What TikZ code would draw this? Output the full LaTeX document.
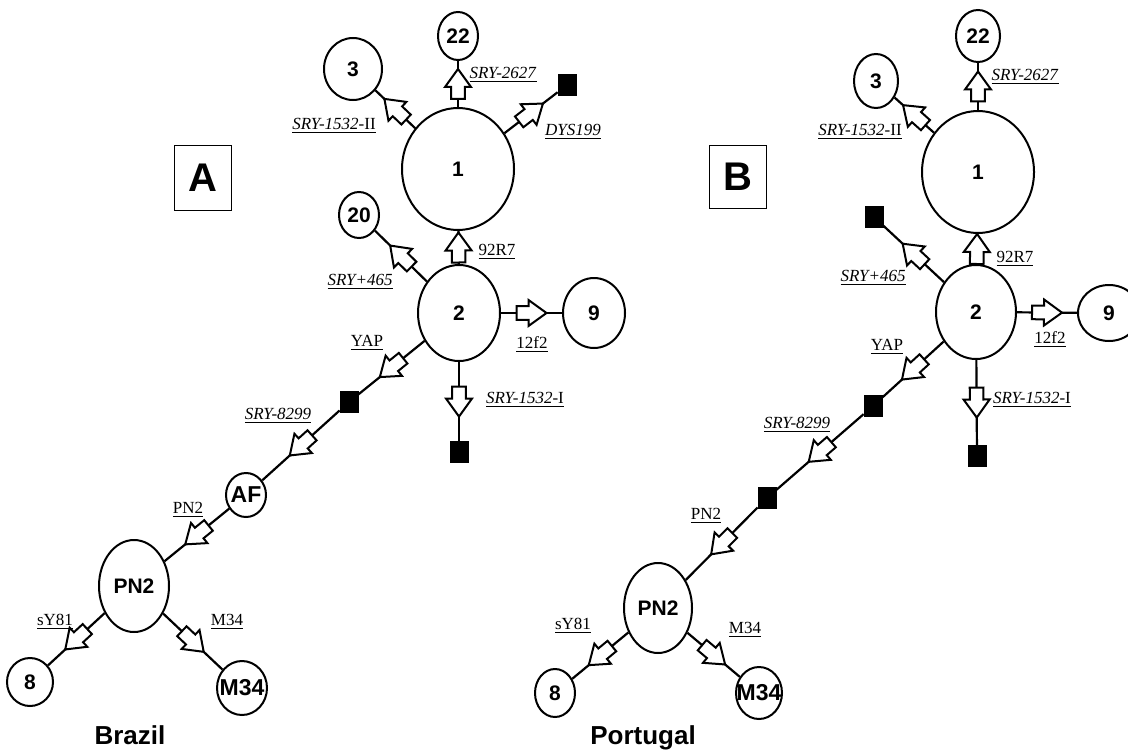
\documentclass[tikz,border=0pt]{standalone}
\usepackage{fontspec}
\setmainfont{Liberation Serif}
\setsansfont{Liberation Sans}
\usepackage{tikz}
\usetikzlibrary{shapes.geometric,decorations.markings}

\begin{document}
\begin{tikzpicture}[x=0.5pt,y=-0.5pt]
  \tikzset{hapnode/.style={ellipse,draw=black,line width=1pt,fill=white,inner sep=0pt,font=\sffamily\bfseries\fontsize{10.5}{12}\selectfont}}
  \tikzset{hapsize/.style 2 args={minimum width=#1pt,minimum height=#2pt}}
  \tikzset{blacksq/.style={rectangle,fill=black,draw=black,inner sep=0pt,minimum width=9pt,minimum height=10.5pt}}
  \tikzset{panelbox/.style={rectangle,draw=black,line width=0.6pt,minimum width=28.5pt,minimum height=32.5pt,font=\sffamily\bfseries\fontsize{20}{24}\selectfont}}
  \tikzset{mutedge/.style={draw=black,line width=1.1pt,postaction={decorate},
    decoration={markings,mark=at position 0.5 with {
      \draw[fill=white,line width=1pt,line join=miter]
        (-7.5pt,-3.4pt) -- (-1.5pt,-3.4pt) -- (-1.5pt,-6.5pt) -- (7.5pt,0pt) --
        (-1.5pt,6.5pt) -- (-1.5pt,3.4pt) -- (-7.5pt,3.4pt) -- cycle;}}}}
  \tikzset{mutlabel/.style={font=\fontsize{8.5}{10}\selectfont,inner sep=0pt}}
  \tikzset{country/.style={font=\sffamily\bfseries\fontsize{13}{15}\selectfont,anchor=base,inner sep=0pt}}
  \useasboundingbox (0,0) rectangle (1128,749);
  % panel A
  \node[hapnode,hapsize={56}{61}] (a1) at (458,169) {1};
  \node[hapnode,hapsize={20}{24}] (a22) at (458,36) {22};
  \node[hapnode,hapsize={29}{31}] (a3) at (353,69) {3};
  \node[blacksq] (asq1) at (567,85) {};
  \node[hapnode,hapsize={20}{23}] (a20) at (359,215) {20};
  \node[hapnode,hapsize={41}{48}] (a2) at (459,313) {2};
  \node[hapnode,hapsize={31}{35}] (a9) at (594,313) {9};
  \node[blacksq] (asq2) at (459,452) {};
  \node[blacksq] (asq3) at (349,402) {};
  \node[hapnode,hapsize={20}{22},font=\sffamily\bfseries\fontsize{11.5}{13}\selectfont] (aAF) at (246,495) {\makebox[0pt]{AF}};
  \node[hapnode,hapsize={35}{46}] (aPN2) at (134,586) {PN2};
  \node[hapnode,hapsize={23}{24}] (a8) at (30,682) {8};
  \node[hapnode,hapsize={25}{27},font=\sffamily\bfseries\fontsize{11.5}{13}\selectfont] (aM34) at (242,688) {\makebox[0pt]{M34}};
  \node[panelbox] (boxA) at (203,178) {A};
  \draw[mutedge] (a1) -- (a22);
  \node[mutlabel] at (503,75) {\underline{\textit{SRY-2627}}};
  \draw[mutedge] (a1) -- (a3);
  \node[mutlabel] at (334,126) {\underline{\textit{SRY-1532-}II}};
  \draw[mutedge] (a1) -- (asq1);
  \node[mutlabel] at (573,132) {\underline{\textit{DYS199}}};
  \draw[mutedge] (a2) -- (a1);
  \node[mutlabel] at (497,252) {\underline{92R7}};
  \draw[mutedge] (a2) -- (a20);
  \node[mutlabel] at (360,282) {\underline{\textit{SRY+465}}};
  \draw[mutedge] (a2) -- (a9);
  \node[mutlabel] at (532,345) {\underline{12f2}};
  \draw[mutedge] (a2) -- (asq2);
  \node[mutlabel] at (525,400) {\underline{\textit{SRY-1532-}I}};
  \draw[mutedge] (a2) -- (asq3);
  \node[mutlabel] at (367,343) {\underline{YAP}};
  \draw[mutedge] (asq3) -- (aAF);
  \node[mutlabel] at (278,416) {\underline{\textit{SRY-8299}}};
  \draw[mutedge] (aAF) -- (aPN2);
  \node[mutlabel] at (188,510) {\underline{PN2}};
  \draw[mutedge] (aPN2) -- (a8);
  \node[mutlabel] at (55,622) {\underline{sY81}};
  \draw[mutedge] (aPN2) -- (aM34);
  \node[mutlabel] at (227,622) {\underline{M34}};
  \node[country] (brazil) at (130,744) {Brazil};
  % panel B
  \node[hapnode,hapsize={56}{61}] (b1) at (978,172) {1};
  \node[hapnode,hapsize={22}{26}] (b22) at (978,36) {22};
  \node[hapnode,hapsize={22}{27}] (b3) at (876,81) {3};
  \node[blacksq] (bsq1) at (874,217) {};
  \node[hapnode,hapsize={40}{47}] (b2) at (976,312) {2};
  \node[hapnode,hapsize={31}{28}] (b9) at (1109,313) {9};
  \node[blacksq] (bsq2) at (977,456) {};
  \node[blacksq] (bsq3) at (873,406) {};
  \node[blacksq] (bsq4) at (767,498) {};
  \node[hapnode,hapsize={34}{45}] (bPN2) at (658,608) {PN2};
  \node[hapnode,hapsize={20}{24}] (b8) at (555,693) {8};
  \node[hapnode,hapsize={23}{26},font=\sffamily\bfseries\fontsize{11.5}{13}\selectfont] (bM34) at (759,693) {\makebox[0pt]{M34}};
  \node[panelbox,minimum height=31.5pt] (boxB) at (738,177) {B};
  \draw[mutedge] (b1) -- (b22);
  \node[mutlabel] at (1025,77) {\underline{\textit{SRY-2627}}};
  \draw[mutedge] (b1) -- (b3);
  \node[mutlabel] at (860,132) {\underline{\textit{SRY-1532-}II}};
  \draw[mutedge] (b2) -- (b1);
  \node[mutlabel] at (1015,259) {\underline{92R7}};
  \draw[mutedge] (b2) -- (bsq1);
  \node[mutlabel] at (873,278) {\underline{\textit{SRY+465}}};
  \draw[mutedge] (b2) -- (b9);
  \node[mutlabel] at (1050,340) {\underline{12f2}};
  \draw[mutedge] (b2) -- (bsq2);
  \node[mutlabel] at (1032,400) {\underline{\textit{SRY-1532-}I}};
  \draw[mutedge] (b2) -- (bsq3);
  \node[mutlabel] at (887,347) {\underline{YAP}};
  \draw[mutedge] (bsq3) -- (bsq4);
  \node[mutlabel] at (797,425) {\underline{\textit{SRY-8299}}};
  \draw[mutedge] (bsq4) -- (bPN2);
  \node[mutlabel] at (706,516) {\underline{PN2}};
  \draw[mutedge] (bPN2) -- (b8);
  \node[mutlabel] at (573,626) {\underline{sY81}};
  \draw[mutedge] (bPN2) -- (bM34);
  \node[mutlabel] at (745,630) {\underline{M34}};
  \node[country] (portugal) at (643,744) {Portugal};
\end{tikzpicture}
\end{document}
